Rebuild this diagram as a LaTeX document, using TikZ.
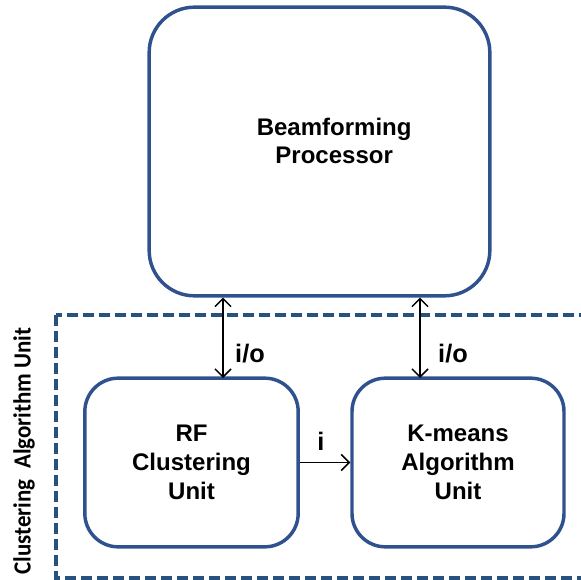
\documentclass[tikz,border=0pt]{standalone}
\usepackage{fontspec}
\setmainfont{Liberation Sans}
\newfontfamily\sidefont{Carlito}
\usetikzlibrary{arrows.meta}
\definecolor{boxblue}{RGB}{47,82,143}
\definecolor{dashblue}{RGB}{40,82,125}
\tikzset{
  unitbox/.style={draw=boxblue, line width=2.6pt, rounded corners=25pt,
    fill=white, inner sep=0pt},
  bigbox/.style={unitbox, rounded corners=34pt},
  boxtext/.style={font=\bfseries\fontsize{18pt}{21.5pt}\selectfont, align=center},
  iolink/.style={line width=1.1pt, {Straight Barb[length=6pt,width=12pt]}-{Straight Barb[length=6pt,width=12pt]}},
  ilink/.style={line width=1.1pt, -{Straight Barb[length=6pt,width=12pt]}},
  linklabel/.style={font=\bfseries\fontsize{19pt}{22pt}\selectfont, inner sep=0pt},
  grouplabel/.style={font=\sidefont\bfseries\fontsize{18.5pt}{22pt}\selectfont, rotate=90, inner sep=0pt},
  groupframe/.style={draw=dashblue, line width=2.6pt, dash pattern=on 8pt off 4pt}
}
\begin{document}
\begin{tikzpicture}[x=0.75pt,y=-0.75pt]
  \useasboundingbox (0,0) rectangle (581,580);
  \clip (0,0) rectangle (581,580);

  % dashed frame of the clustering unit (runs past the right edge)
  \draw[groupframe] (56,315) rectangle (620,578);
  \node[grouplabel] (grp) at (24,451) {\scalebox{0.93}[1]{Clustering~~Algorithm Unit}};

  % processor and the two clustering blocks
  \node[bigbox, minimum width=255.5pt, minimum height=216.5pt,
        label={[boxtext, xshift=11pt, yshift=8pt]center:Beamforming\\Processor}]
        (bf) at (319.5,151.5) {};
  \node[unitbox, boxtext, minimum width=160pt, minimum height=126.5pt]
        (rf) at (191.5,462.5) {RF\\Clustering\\Unit};
  \node[unitbox, boxtext, minimum width=159pt, minimum height=126.5pt]
        (km) at (458,462.5) {K-means\\Algorithm\\Unit};

  % connection points of the i/o links
  \coordinate (rfin) at (223,378);
  \coordinate (kmin) at (420,378);

  \draw[iolink] (bf.south -| rfin) -- (rfin);
  \draw[iolink] (bf.south -| kmin) -- (kmin);
  \draw[ilink] (rf.east) -- (km.west);

  \node[linklabel] (io1) at (250,354) {i/o};
  \node[linklabel] (io2) at (453,354) {i/o};
  \node[linklabel] (il) at (321,441) {i};
\end{tikzpicture}
\end{document}
